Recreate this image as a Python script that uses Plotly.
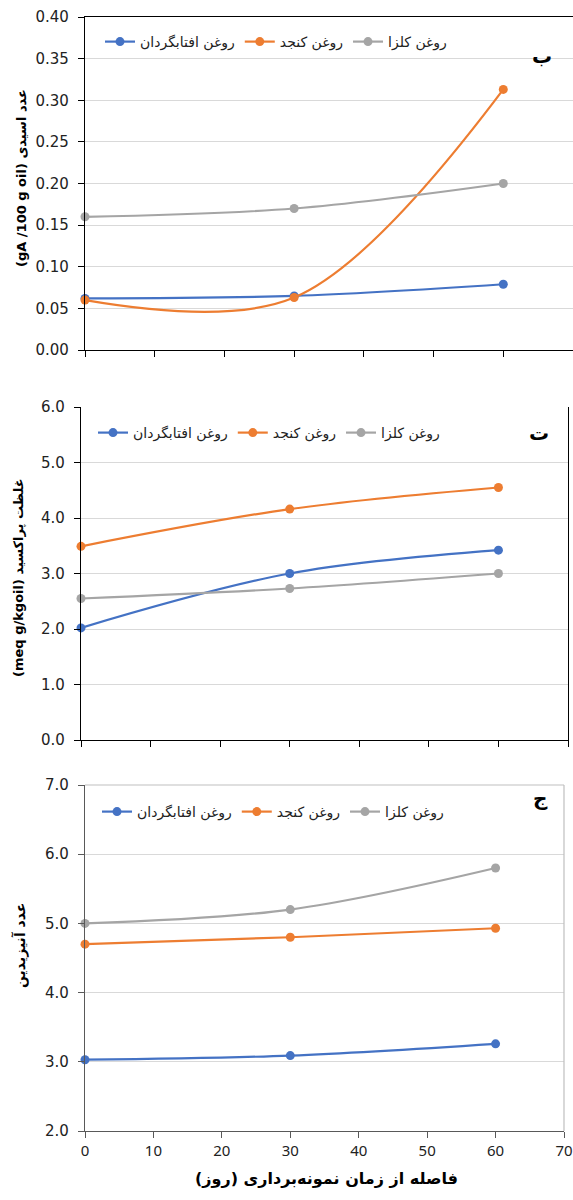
import plotly.graph_objects as go

W, H = 573, 1200

days = [0, 30, 60]
series_names = ["روغن افتابگردان", "روغن کنجد", "روغن کلزا"]
series_colors = ["#4472C4", "#ED7D31", "#A5A5A5"]

acid_sunflower = [0.062, 0.065, 0.079]
acid_sesame = [0.060, 0.063, 0.313]
acid_canola = [0.160, 0.170, 0.200]

perox_sunflower = [2.02, 3.00, 3.42]
perox_sesame = [3.49, 4.16, 4.55]
perox_canola = [2.55, 2.73, 3.00]

anis_sunflower = [3.03, 3.09, 3.26]
anis_sesame = [4.70, 4.80, 4.93]
anis_canola = [5.00, 5.20, 5.80]

acid_ticks = [0.00, 0.05, 0.10, 0.15, 0.20, 0.25, 0.30, 0.35, 0.40]
perox_ticks = [0.0, 1.0, 2.0, 3.0, 4.0, 5.0, 6.0]
anis_ticks = [2.0, 3.0, 4.0, 5.0, 6.0, 7.0]
x_ticks = [0, 10, 20, 30, 40, 50, 60, 70]

panel_letters = ["ب", "ت", "ج"]
y_titles = ["(gA /100 g oil) عدد اسیدی", "(meq g/kgoil) غلظت پراکسید", "عدد آنیزیدین"]
x_title = "فاصله از زمان نمونه‌برداری (روز)"

# pixel boxes: (left, right, top, bottom)
boxes = [(85, 574, 17, 350), (81, 568, 407, 740), (85, 564, 785, 1131)]


def px(x):
    return x / W


def py(y):
    return 1 - y / H


fig = go.Figure()
panels = [
    (acid_sunflower, acid_sesame, acid_canola),
    (perox_sunflower, perox_sesame, perox_canola),
    (anis_sunflower, anis_sesame, anis_canola),
]
legend_ids = ["legend", "legend2", "legend3"]
for i, vals in enumerate(panels):
    xa = "x" if i == 0 else f"x{i+1}"
    ya = "y" if i == 0 else f"y{i+1}"
    for name, color, v in zip(series_names, series_colors, vals):
        fig.add_trace(go.Scatter(
            x=days, y=v, name=name, mode="lines+markers",
            line=dict(color=color, width=2.2, shape="spline", smoothing=1.0),
            marker=dict(color=color, size=9),
            xaxis=xa, yaxis=ya, legend=legend_ids[i], cliponaxis=False,
        ))

tickfont = dict(family="DejaVu Sans", size=15, color="#222")
axis_colors = ["#000000", "#000000", "#595959"]
yranges = [[0, 0.40], [0, 6.0], [2.0, 7.0]]
yticks = [acid_ticks, perox_ticks, anis_ticks]
yfmt = [".2f", ".1f", ".1f"]

layout = dict(
    width=W, height=H, margin=dict(l=0, r=0, t=0, b=0, autoexpand=False),
    plot_bgcolor="white", paper_bgcolor="white",
    font=dict(family="DejaVu Sans", color="#000"),
)
for i, (l, r, t, b) in enumerate(boxes):
    sx = "" if i == 0 else str(i + 1)
    layout[f"xaxis{sx}"] = dict(
        domain=[px(l), min(1.0, px(r))], anchor=f"y{sx}", range=[0, 70],
        tickvals=x_ticks, ticks="outside", ticklen=6, tickcolor=axis_colors[i],
        showticklabels=(i == 2), tickfont=dict(family="Noto Sans", size=15, color="#222"),
        showline=True, linecolor=axis_colors[i], linewidth=1.3, automargin=False,
        mirror=(i == 0), showgrid=False, zeroline=False, fixedrange=True,
    )
    layout[f"yaxis{sx}"] = dict(
        domain=[py(b), py(t)], anchor=f"x{sx}", range=yranges[i],
        tickvals=yticks[i], tickformat=yfmt[i], ticks="outside", ticklen=6,
        tickcolor=axis_colors[i], tickfont=tickfont, ticklabelstandoff=6,
        showline=True, linecolor=axis_colors[i], linewidth=1.3, automargin=False,
        mirror=(i == 1), showgrid=True, gridcolor="#d9d9d9", gridwidth=1.3,
        zeroline=False, fixedrange=True,
    )

legend_pos = [(100, 42), (93, 433), (97, 812)]
for i, (lx, ly) in enumerate(legend_pos):
    key = legend_ids[i]
    layout[key] = dict(
        orientation="h", x=px(lx), y=py(ly), xanchor="left", yanchor="middle",
        font=dict(family="DejaVu Sans", size=14, color="#222"),
        bgcolor="rgba(0,0,0,0)", itemclick=False, itemdoubleclick=False,
        tracegroupgap=0,
    )

fig.update_layout(**layout)

# frame for panel 3 (light gray top/right)
l, r, t, b = boxes[2]
fig.add_shape(type="line", xref="paper", yref="paper", x0=px(l), x1=px(r), y0=py(t), y1=py(t),
              line=dict(color="#bfbfbf", width=1.2))
fig.add_shape(type="line", xref="paper", yref="paper", x0=px(r), x1=px(r), y0=py(t), y1=py(b),
              line=dict(color="#bfbfbf", width=1.2))

letter_pos = [(554, 42), (551, 433), (550, 812)]
for (lx, ly), letter in zip(letter_pos, panel_letters):
    fig.add_annotation(text=f"<b>{letter}</b>", x=px(lx), y=py(ly), xref="paper", yref="paper",
                       showarrow=False, font=dict(family="DejaVu Sans", size=20, color="#000"))

ytitle_pos = [(22, 178), (18, 578), (20, 946)]
ytitle_sizes = [13, 13, 14]
for (tx, ty), txt, fs in zip(ytitle_pos, y_titles, ytitle_sizes):
    fig.add_annotation(text=f"<b>{txt}</b>", x=px(tx), y=py(ty), xanchor="center", yanchor="middle",
                       xref="paper", yref="paper", showarrow=False, textangle=-90,
                       font=dict(family="DejaVu Sans", size=fs, color="#000"))

fig.add_annotation(text=f"<b>{x_title}</b>", x=px(326), y=py(1190), xref="paper", yref="paper",
                   showarrow=False, font=dict(family="DejaVu Sans", size=16, color="#000"))

fig.write_html("out.html", config={"displayModeBar": False},
               post_script="document.body.style.margin='0';document.body.style.overflow='hidden';")
